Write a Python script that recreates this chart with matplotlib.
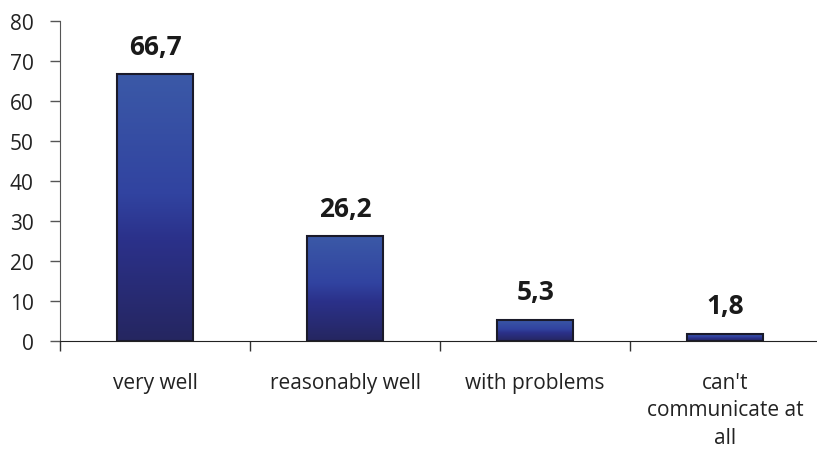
import numpy as np
import matplotlib
matplotlib.use("Agg")
import matplotlib.pyplot as plt
from matplotlib.colors import LinearSegmentedColormap
from matplotlib.ticker import FixedLocator, NullFormatter

categories = ["very well", "reasonably well", "with problems", "can't\ncommunicate at\nall"]
values = [66.7, 26.2, 5.3, 1.8]
value_labels = ["66,7", "26,2", "5,3", "1,8"]
y_ticks = [0, 10, 20, 30, 40, 50, 60, 70, 80]

plt.rcParams["font.family"] = ["Open Sans", "DejaVu Sans"]

fig = plt.figure(figsize=(8.17, 4.52), dpi=100)
ax = fig.add_axes([60 / 817, 1 - 342 / 452, 1 - 60 / 817 + 0.004, 320 / 452])

x = np.arange(len(categories))
bars = ax.bar(x, values, width=0.4, color="none", edgecolor="#1a1a2a", linewidth=1.5, zorder=3)

# vertical gradient inside each bar (light blue on top, dark navy at the bottom)
cmap = LinearSegmentedColormap.from_list(
    "bar_grad",
    [(0.0, "#252660"), (0.38, "#2b318a"), (0.55, "#3143a0"), (1.0, "#3b59a7")],
)
grad = np.linspace(0, 1, 256).reshape(-1, 1)
for b in bars:
    x0, y0 = b.get_x(), b.get_y()
    w, h = b.get_width(), b.get_height()
    im = ax.imshow(grad, cmap=cmap, origin="lower", aspect="auto",
                   extent=[x0, x0 + w, y0, y0 + h], zorder=2)
    im.set_clip_path(b)

for xi, v, lab in zip(x, values, value_labels):
    ax.text(xi, v + 3.6, lab, ha="center", va="bottom", fontsize=19,
            fontweight="bold", color="#1a1a1a")

ax.set_xlim(-0.5, 3.5)
ax.set_ylim(0, 80)

ax.spines["top"].set_visible(False)
ax.spines["right"].set_visible(False)
ax.spines["left"].set_color("#555555")
ax.spines["bottom"].set_color("#222222")

ax.set_yticks(y_ticks)
ax.set_yticklabels([str(t) for t in y_ticks], fontsize=15, color="#222222")
ax.tick_params(axis="y", direction="out", length=7, width=1, color="#555555", pad=12)

ax.xaxis.set_major_locator(FixedLocator([-0.5, 0.5, 1.5, 2.5]))
ax.xaxis.set_major_formatter(NullFormatter())
ax.tick_params(axis="x", which="major", direction="out", length=7, width=1, color="#333333")
ax.xaxis.set_minor_locator(FixedLocator(list(x)))
ax.set_xticklabels(categories, minor=True, fontsize=15, color="#222222", linespacing=1.42)
ax.tick_params(axis="x", which="minor", length=0, pad=22)

ax.set_facecolor("white")
fig.savefig("out.png", dpi=100, facecolor="white")
